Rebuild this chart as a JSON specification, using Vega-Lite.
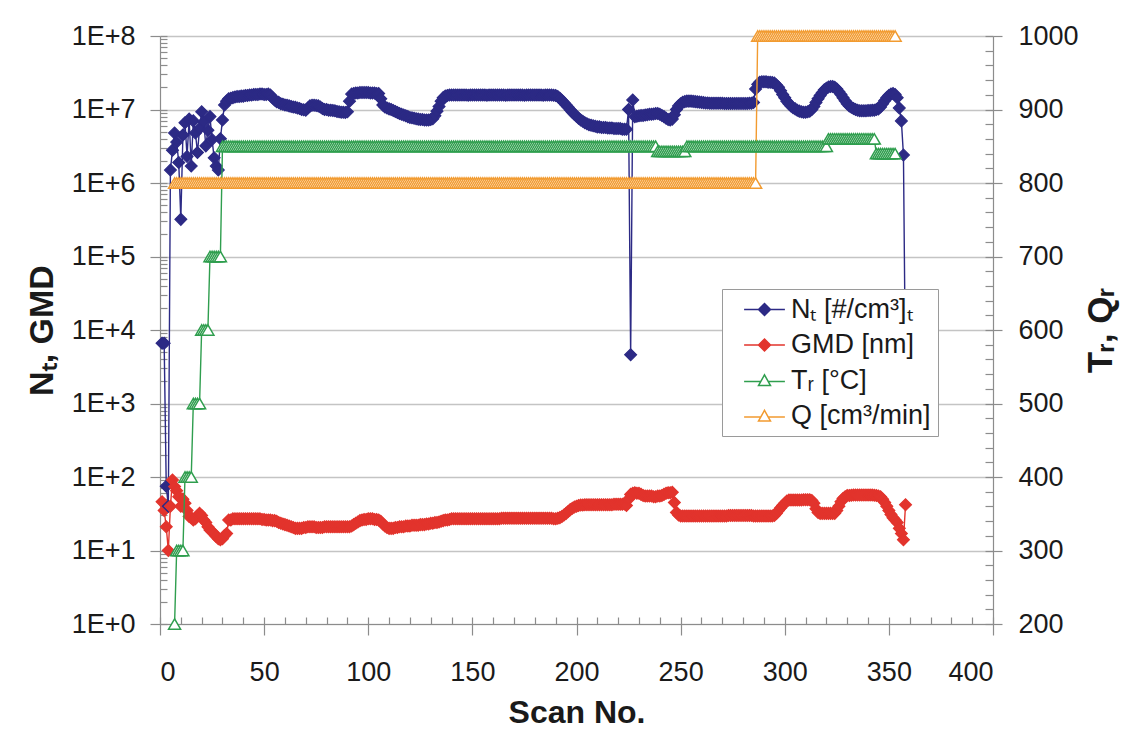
{
  "$schema": "https://vega.github.io/schema/vega-lite/v6.json",
  "width": 833,
  "height": 588,
  "autosize": {"type": "none"},
  "padding": {"left": 160, "top": 36, "right": 136, "bottom": 112},
  "background": "white",
  "config": {
    "view": {"stroke": null},
    "axis": {
      "labelFont": "Liberation Sans",
      "titleFont": "Liberation Sans",
      "labelColor": "#1a1a1a",
      "titleColor": "#1a1a1a",
      "domainColor": "#8c8c8c",
      "tickColor": "#8c8c8c",
      "domainWidth": 1.2,
      "tickWidth": 1.2
    },
    "legend": {"labelFont": "Liberation Sans"}
  },
  "data": {
    "values": [
      {"s":1,"N":6600,"G":46},
      {"s":2,"N":6600,"G":35},
      {"s":3,"N":75,"G":21},
      {"s":4,"N":40,"G":10},
      {"s":5,"N":1.5e6,"G":40},
      {"s":6,"N":2.8e6,"G":91},
      {"s":7,"N":4.8e6,"G":74,"T":200,"Q":800},
      {"s":8,"N":3.6e6,"G":65,"T":300,"Q":800},
      {"s":9,"N":1.9e6,"G":54,"T":300,"Q":800},
      {"s":10,"N":3.2e5,"G":40,"T":300,"Q":800},
      {"s":11,"N":4.5e6,"G":50,"T":300,"Q":800},
      {"s":12,"N":6.6e6,"G":44,"T":400,"Q":800},
      {"s":13,"N":2.3e6,"G":35,"T":400,"Q":800},
      {"s":14,"N":7.4e6,"G":29,"T":400,"Q":800},
      {"s":15,"N":1.7e6,"G":28,"T":400,"Q":800},
      {"s":16,"N":7.0e6,"G":26,"T":500,"Q":800},
      {"s":17,"N":4.8e6,"G":27,"T":500,"Q":800},
      {"s":18,"N":2.6e6,"G":30,"T":500,"Q":800},
      {"s":19,"N":5.5e6,"G":32,"T":500,"Q":800},
      {"s":20,"N":9.3e6,"G":30,"T":600,"Q":800},
      {"s":21,"N":6.8e6,"G":26,"T":600,"Q":800},
      {"s":22,"N":3.2e6,"G":24,"T":600,"Q":800},
      {"s":23,"N":5.2e6,"G":21,"T":600,"Q":800},
      {"s":24,"N":8.0e6,"G":19,"T":700,"Q":800},
      {"s":25,"N":3.9e6,"G":18,"T":700,"Q":800},
      {"s":26,"N":2.2e6,"G":17,"T":700,"Q":800},
      {"s":27,"N":1.7e6,"G":15.5,"T":700,"Q":800},
      {"s":28,"N":1.5e6,"G":14.5,"T":700,"Q":800},
      {"s":29,"N":4.0e6,"G":14,"T":700,"Q":800},
      {"s":30,"N":7.2e6,"G":14.5,"T":850,"Q":800},
      {"s":31,"N":1.15e7,"G":16,"T":850,"Q":800},
      {"s":32,"N":1.3e7,"G":17,"T":850,"Q":800},
      {"s":33,"N":1.4e7,"G":26,"T":850,"Q":800},
      {"s":34,"N":1.42e7,"G":26,"T":850,"Q":800},
      {"s":35,"N":1.45e7,"G":27,"T":850,"Q":800},
      {"s":36,"N":1.48e7,"G":27,"T":850,"Q":800},
      {"s":37,"N":1.5e7,"G":27,"T":850,"Q":800},
      {"s":38,"N":1.5e7,"G":27,"T":850,"Q":800},
      {"s":39,"N":1.52e7,"G":27,"T":850,"Q":800},
      {"s":40,"N":1.52e7,"G":27,"T":850,"Q":800},
      {"s":41,"N":1.55e7,"G":27,"T":850,"Q":800},
      {"s":42,"N":1.55e7,"G":27,"T":850,"Q":800},
      {"s":43,"N":1.57e7,"G":27,"T":850,"Q":800},
      {"s":44,"N":1.58e7,"G":27,"T":850,"Q":800},
      {"s":45,"N":1.6e7,"G":27,"T":850,"Q":800},
      {"s":46,"N":1.6e7,"G":27,"T":850,"Q":800},
      {"s":47,"N":1.6e7,"G":27,"T":850,"Q":800},
      {"s":48,"N":1.62e7,"G":27,"T":850,"Q":800},
      {"s":49,"N":1.62e7,"G":26.5,"T":850,"Q":800},
      {"s":50,"N":1.6e7,"G":26.5,"T":850,"Q":800},
      {"s":51,"N":1.6e7,"G":26,"T":850,"Q":800},
      {"s":52,"N":1.62e7,"G":26,"T":850,"Q":800},
      {"s":53,"N":1.58e7,"G":26,"T":850,"Q":800},
      {"s":54,"N":1.45e7,"G":25.5,"T":850,"Q":800},
      {"s":55,"N":1.35e7,"G":25.5,"T":850,"Q":800},
      {"s":56,"N":1.28e7,"G":25,"T":850,"Q":800},
      {"s":57,"N":1.25e7,"G":24,"T":850,"Q":800},
      {"s":58,"N":1.2e7,"G":23.5,"T":850,"Q":800},
      {"s":59,"N":1.18e7,"G":23,"T":850,"Q":800},
      {"s":60,"N":1.15e7,"G":22.5,"T":850,"Q":800},
      {"s":61,"N":1.14e7,"G":22,"T":850,"Q":800},
      {"s":62,"N":1.12e7,"G":21.5,"T":850,"Q":800},
      {"s":63,"N":1.1e7,"G":21,"T":850,"Q":800},
      {"s":64,"N":1.08e7,"G":20.5,"T":850,"Q":800},
      {"s":65,"N":1.07e7,"G":20,"T":850,"Q":800},
      {"s":66,"N":1.05e7,"G":20,"T":850,"Q":800},
      {"s":67,"N":1.03e7,"G":20,"T":850,"Q":800},
      {"s":68,"N":1.0e7,"G":20,"T":850,"Q":800},
      {"s":69,"N":9.9e6,"G":20.5,"T":850,"Q":800},
      {"s":70,"N":9.8e6,"G":20.5,"T":850,"Q":800},
      {"s":71,"N":1.05e7,"G":21,"T":850,"Q":800},
      {"s":72,"N":1.12e7,"G":21,"T":850,"Q":800},
      {"s":73,"N":1.14e7,"G":21,"T":850,"Q":800},
      {"s":74,"N":1.14e7,"G":21,"T":850,"Q":800},
      {"s":75,"N":1.13e7,"G":20.5,"T":850,"Q":800},
      {"s":76,"N":1.12e7,"G":20.5,"T":850,"Q":800},
      {"s":77,"N":1.08e7,"G":20.5,"T":850,"Q":800},
      {"s":78,"N":1.03e7,"G":20.5,"T":850,"Q":800},
      {"s":79,"N":1.0e7,"G":21,"T":850,"Q":800},
      {"s":80,"N":1.0e7,"G":21,"T":850,"Q":800},
      {"s":81,"N":9.8e6,"G":21,"T":850,"Q":800},
      {"s":82,"N":9.8e6,"G":21,"T":850,"Q":800},
      {"s":83,"N":9.7e6,"G":21,"T":850,"Q":800},
      {"s":84,"N":9.6e6,"G":21,"T":850,"Q":800},
      {"s":85,"N":9.4e6,"G":21,"T":850,"Q":800},
      {"s":86,"N":9.3e6,"G":21,"T":850,"Q":800},
      {"s":87,"N":9.2e6,"G":21,"T":850,"Q":800},
      {"s":88,"N":9.2e6,"G":21,"T":850,"Q":800},
      {"s":89,"N":9.1e6,"G":21,"T":850,"Q":800},
      {"s":90,"N":9.3e6,"G":21,"T":850,"Q":800},
      {"s":91,"N":1.3e7,"G":21,"T":850,"Q":800},
      {"s":92,"N":1.62e7,"G":21.5,"T":850,"Q":800},
      {"s":93,"N":1.65e7,"G":22.5,"T":850,"Q":800},
      {"s":94,"N":1.68e7,"G":23.5,"T":850,"Q":800},
      {"s":95,"N":1.68e7,"G":24.5,"T":850,"Q":800},
      {"s":96,"N":1.7e7,"G":25.5,"T":850,"Q":800},
      {"s":97,"N":1.7e7,"G":26,"T":850,"Q":800},
      {"s":98,"N":1.7e7,"G":26.5,"T":850,"Q":800},
      {"s":99,"N":1.7e7,"G":26.5,"T":850,"Q":800},
      {"s":100,"N":1.7e7,"G":27,"T":850,"Q":800},
      {"s":101,"N":1.68e7,"G":27,"T":850,"Q":800},
      {"s":102,"N":1.68e7,"G":27,"T":850,"Q":800},
      {"s":103,"N":1.68e7,"G":26.5,"T":850,"Q":800},
      {"s":104,"N":1.65e7,"G":26.5,"T":850,"Q":800},
      {"s":105,"N":1.65e7,"G":26,"T":850,"Q":800},
      {"s":106,"N":1.4e7,"G":25,"T":850,"Q":800},
      {"s":107,"N":1.15e7,"G":23,"T":850,"Q":800},
      {"s":108,"N":1.08e7,"G":21.5,"T":850,"Q":800},
      {"s":109,"N":1.05e7,"G":20.5,"T":850,"Q":800},
      {"s":110,"N":1.02e7,"G":20,"T":850,"Q":800},
      {"s":111,"N":1.0e7,"G":20,"T":850,"Q":800},
      {"s":112,"N":9.7e6,"G":20,"T":850,"Q":800},
      {"s":113,"N":9.4e6,"G":20.5,"T":850,"Q":800},
      {"s":114,"N":9.1e6,"G":20.5,"T":850,"Q":800},
      {"s":115,"N":8.8e6,"G":21,"T":850,"Q":800},
      {"s":116,"N":8.6e6,"G":21,"T":850,"Q":800},
      {"s":117,"N":8.4e6,"G":21,"T":850,"Q":800},
      {"s":118,"N":8.2e6,"G":21.5,"T":850,"Q":800},
      {"s":119,"N":8.0e6,"G":21.5,"T":850,"Q":800},
      {"s":120,"N":7.8e6,"G":21.5,"T":850,"Q":800},
      {"s":121,"N":7.7e6,"G":22,"T":850,"Q":800},
      {"s":122,"N":7.6e6,"G":22,"T":850,"Q":800},
      {"s":123,"N":7.5e6,"G":22,"T":850,"Q":800},
      {"s":124,"N":7.4e6,"G":22,"T":850,"Q":800},
      {"s":125,"N":7.3e6,"G":22.5,"T":850,"Q":800},
      {"s":126,"N":7.3e6,"G":22.5,"T":850,"Q":800},
      {"s":127,"N":7.2e6,"G":22.5,"T":850,"Q":800},
      {"s":128,"N":7.2e6,"G":23,"T":850,"Q":800},
      {"s":129,"N":7.2e6,"G":23,"T":850,"Q":800},
      {"s":130,"N":7.3e6,"G":23.5,"T":850,"Q":800},
      {"s":131,"N":7.5e6,"G":23.5,"T":850,"Q":800},
      {"s":132,"N":8.2e6,"G":24,"T":850,"Q":800},
      {"s":133,"N":9.5e6,"G":24,"T":850,"Q":800},
      {"s":134,"N":1.1e7,"G":24.5,"T":850,"Q":800},
      {"s":135,"N":1.3e7,"G":25,"T":850,"Q":800},
      {"s":136,"N":1.45e7,"G":25.5,"T":850,"Q":800},
      {"s":137,"N":1.52e7,"G":26,"T":850,"Q":800},
      {"s":138,"N":1.55e7,"G":26,"T":850,"Q":800},
      {"s":139,"N":1.57e7,"G":26.5,"T":850,"Q":800},
      {"s":140,"N":1.57e7,"G":27,"T":850,"Q":800},
      {"s":141,"N":1.58e7,"G":27,"T":850,"Q":800},
      {"s":142,"N":1.58e7,"G":27,"T":850,"Q":800},
      {"s":143,"N":1.57e7,"G":27,"T":850,"Q":800},
      {"s":144,"N":1.57e7,"G":27,"T":850,"Q":800},
      {"s":145,"N":1.58e7,"G":27,"T":850,"Q":800},
      {"s":146,"N":1.58e7,"G":27,"T":850,"Q":800},
      {"s":147,"N":1.57e7,"G":27,"T":850,"Q":800},
      {"s":148,"N":1.56e7,"G":27,"T":850,"Q":800},
      {"s":149,"N":1.57e7,"G":27,"T":850,"Q":800},
      {"s":150,"N":1.58e7,"G":27,"T":850,"Q":800},
      {"s":151,"N":1.58e7,"G":27,"T":850,"Q":800},
      {"s":152,"N":1.57e7,"G":27,"T":850,"Q":800},
      {"s":153,"N":1.57e7,"G":27,"T":850,"Q":800},
      {"s":154,"N":1.58e7,"G":27,"T":850,"Q":800},
      {"s":155,"N":1.58e7,"G":27,"T":850,"Q":800},
      {"s":156,"N":1.57e7,"G":27,"T":850,"Q":800},
      {"s":157,"N":1.56e7,"G":27,"T":850,"Q":800},
      {"s":158,"N":1.57e7,"G":27,"T":850,"Q":800},
      {"s":159,"N":1.58e7,"G":27,"T":850,"Q":800},
      {"s":160,"N":1.58e7,"G":27,"T":850,"Q":800},
      {"s":161,"N":1.57e7,"G":27,"T":850,"Q":800},
      {"s":162,"N":1.57e7,"G":27,"T":850,"Q":800},
      {"s":163,"N":1.58e7,"G":27,"T":850,"Q":800},
      {"s":164,"N":1.58e7,"G":27.5,"T":850,"Q":800},
      {"s":165,"N":1.57e7,"G":27.5,"T":850,"Q":800},
      {"s":166,"N":1.56e7,"G":27.5,"T":850,"Q":800},
      {"s":167,"N":1.57e7,"G":27.5,"T":850,"Q":800},
      {"s":168,"N":1.58e7,"G":27.5,"T":850,"Q":800},
      {"s":169,"N":1.58e7,"G":27.5,"T":850,"Q":800},
      {"s":170,"N":1.57e7,"G":27.5,"T":850,"Q":800},
      {"s":171,"N":1.57e7,"G":27.5,"T":850,"Q":800},
      {"s":172,"N":1.58e7,"G":27.5,"T":850,"Q":800},
      {"s":173,"N":1.58e7,"G":27.5,"T":850,"Q":800},
      {"s":174,"N":1.57e7,"G":27.5,"T":850,"Q":800},
      {"s":175,"N":1.56e7,"G":27.5,"T":850,"Q":800},
      {"s":176,"N":1.57e7,"G":27.5,"T":850,"Q":800},
      {"s":177,"N":1.58e7,"G":27.5,"T":850,"Q":800},
      {"s":178,"N":1.58e7,"G":27.5,"T":850,"Q":800},
      {"s":179,"N":1.57e7,"G":27.5,"T":850,"Q":800},
      {"s":180,"N":1.57e7,"G":27.5,"T":850,"Q":800},
      {"s":181,"N":1.58e7,"G":27.5,"T":850,"Q":800},
      {"s":182,"N":1.58e7,"G":27.5,"T":850,"Q":800},
      {"s":183,"N":1.57e7,"G":27.5,"T":850,"Q":800},
      {"s":184,"N":1.56e7,"G":27.5,"T":850,"Q":800},
      {"s":185,"N":1.57e7,"G":27.5,"T":850,"Q":800},
      {"s":186,"N":1.58e7,"G":27.5,"T":850,"Q":800},
      {"s":187,"N":1.58e7,"G":27.5,"T":850,"Q":800},
      {"s":188,"N":1.57e7,"G":27.5,"T":850,"Q":800},
      {"s":189,"N":1.56e7,"G":27,"T":850,"Q":800},
      {"s":190,"N":1.55e7,"G":27,"T":850,"Q":800},
      {"s":191,"N":1.5e7,"G":27.5,"T":850,"Q":800},
      {"s":192,"N":1.42e7,"G":28,"T":850,"Q":800},
      {"s":193,"N":1.33e7,"G":29,"T":850,"Q":800},
      {"s":194,"N":1.24e7,"G":30.5,"T":850,"Q":800},
      {"s":195,"N":1.15e7,"G":32,"T":850,"Q":800},
      {"s":196,"N":1.07e7,"G":34,"T":850,"Q":800},
      {"s":197,"N":9.9e6,"G":36,"T":850,"Q":800},
      {"s":198,"N":9.2e6,"G":37.5,"T":850,"Q":800},
      {"s":199,"N":8.6e6,"G":39,"T":850,"Q":800},
      {"s":200,"N":8.1e6,"G":40,"T":850,"Q":800},
      {"s":201,"N":7.6e6,"G":41,"T":850,"Q":800},
      {"s":202,"N":7.2e6,"G":41.5,"T":850,"Q":800},
      {"s":203,"N":6.9e6,"G":41.5,"T":850,"Q":800},
      {"s":204,"N":6.6e6,"G":42,"T":850,"Q":800},
      {"s":205,"N":6.4e6,"G":42,"T":850,"Q":800},
      {"s":206,"N":6.2e6,"G":42,"T":850,"Q":800},
      {"s":207,"N":6.1e6,"G":42,"T":850,"Q":800},
      {"s":208,"N":6.0e6,"G":42,"T":850,"Q":800},
      {"s":209,"N":5.9e6,"G":42,"T":850,"Q":800},
      {"s":210,"N":5.8e6,"G":42,"T":850,"Q":800},
      {"s":211,"N":5.8e6,"G":42,"T":850,"Q":800},
      {"s":212,"N":5.7e6,"G":42,"T":850,"Q":800},
      {"s":213,"N":5.7e6,"G":42,"T":850,"Q":800},
      {"s":214,"N":5.7e6,"G":42,"T":850,"Q":800},
      {"s":215,"N":5.6e6,"G":42,"T":850,"Q":800},
      {"s":216,"N":5.6e6,"G":42,"T":850,"Q":800},
      {"s":217,"N":5.6e6,"G":42,"T":850,"Q":800},
      {"s":218,"N":5.5e6,"G":42.5,"T":850,"Q":800},
      {"s":219,"N":5.5e6,"G":42.5,"T":850,"Q":800},
      {"s":220,"N":5.5e6,"G":42.5,"T":850,"Q":800},
      {"s":221,"N":5.5e6,"G":42.5,"T":850,"Q":800},
      {"s":222,"N":5.4e6,"G":42.5,"T":850,"Q":800},
      {"s":223,"N":5.4e6,"G":43,"T":850,"Q":800},
      {"s":224,"N":5.4e6,"G":41,"T":850,"Q":800},
      {"s":225,"N":1.0e7,"G":50,"T":850,"Q":800},
      {"s":226,"N":4600,"G":58,"T":850,"Q":800},
      {"s":227,"N":1.35e7,"G":60,"T":850,"Q":800},
      {"s":228,"N":8.0e6,"G":61,"T":850,"Q":800},
      {"s":229,"N":8.1e6,"G":60,"T":850,"Q":800},
      {"s":230,"N":8.2e6,"G":60,"T":850,"Q":800},
      {"s":231,"N":8.3e6,"G":58,"T":850,"Q":800},
      {"s":232,"N":8.3e6,"G":56,"T":850,"Q":800},
      {"s":233,"N":8.4e6,"G":55,"T":850,"Q":800},
      {"s":234,"N":8.5e6,"G":55,"T":850,"Q":800},
      {"s":235,"N":8.6e6,"G":55,"T":850,"Q":800},
      {"s":236,"N":8.6e6,"G":55,"T":850,"Q":800},
      {"s":237,"N":8.7e6,"G":54,"T":850,"Q":800},
      {"s":238,"N":8.8e6,"G":54,"T":850,"Q":800},
      {"s":239,"N":8.8e6,"G":55,"T":843,"Q":800},
      {"s":240,"N":8.6e6,"G":55,"T":843,"Q":800},
      {"s":241,"N":8.3e6,"G":56,"T":843,"Q":800},
      {"s":242,"N":8.0e6,"G":58,"T":843,"Q":800},
      {"s":243,"N":7.6e6,"G":60,"T":843,"Q":800},
      {"s":244,"N":7.3e6,"G":61,"T":843,"Q":800},
      {"s":245,"N":7.2e6,"G":61,"T":843,"Q":800},
      {"s":246,"N":7.4e6,"G":62,"T":843,"Q":800},
      {"s":247,"N":8.5e6,"G":45,"T":843,"Q":800},
      {"s":248,"N":1.0e7,"G":33,"T":843,"Q":800},
      {"s":249,"N":1.12e7,"G":30.5,"T":843,"Q":800},
      {"s":250,"N":1.2e7,"G":29.5,"T":843,"Q":800},
      {"s":251,"N":1.25e7,"G":29.5,"T":843,"Q":800},
      {"s":252,"N":1.28e7,"G":29.5,"T":843,"Q":800},
      {"s":253,"N":1.3e7,"G":29.5,"T":850,"Q":800},
      {"s":254,"N":1.3e7,"G":29.5,"T":850,"Q":800},
      {"s":255,"N":1.3e7,"G":29.5,"T":850,"Q":800},
      {"s":256,"N":1.29e7,"G":29.5,"T":850,"Q":800},
      {"s":257,"N":1.28e7,"G":29.5,"T":850,"Q":800},
      {"s":258,"N":1.27e7,"G":29.5,"T":850,"Q":800},
      {"s":259,"N":1.26e7,"G":29.5,"T":850,"Q":800},
      {"s":260,"N":1.25e7,"G":29.5,"T":850,"Q":800},
      {"s":261,"N":1.24e7,"G":29.5,"T":850,"Q":800},
      {"s":262,"N":1.23e7,"G":29.5,"T":850,"Q":800},
      {"s":263,"N":1.23e7,"G":29.5,"T":850,"Q":800},
      {"s":264,"N":1.22e7,"G":29.5,"T":850,"Q":800},
      {"s":265,"N":1.22e7,"G":29.5,"T":850,"Q":800},
      {"s":266,"N":1.22e7,"G":29.5,"T":850,"Q":800},
      {"s":267,"N":1.22e7,"G":29.5,"T":850,"Q":800},
      {"s":268,"N":1.22e7,"G":29.5,"T":850,"Q":800},
      {"s":269,"N":1.22e7,"G":29.5,"T":850,"Q":800},
      {"s":270,"N":1.22e7,"G":29.5,"T":850,"Q":800},
      {"s":271,"N":1.21e7,"G":29.5,"T":850,"Q":800},
      {"s":272,"N":1.21e7,"G":29.5,"T":850,"Q":800},
      {"s":273,"N":1.21e7,"G":30,"T":850,"Q":800},
      {"s":274,"N":1.21e7,"G":30,"T":850,"Q":800},
      {"s":275,"N":1.21e7,"G":30,"T":850,"Q":800},
      {"s":276,"N":1.21e7,"G":30,"T":850,"Q":800},
      {"s":277,"N":1.21e7,"G":30,"T":850,"Q":800},
      {"s":278,"N":1.21e7,"G":30,"T":850,"Q":800},
      {"s":279,"N":1.21e7,"G":30,"T":850,"Q":800},
      {"s":280,"N":1.21e7,"G":30,"T":850,"Q":800},
      {"s":281,"N":1.21e7,"G":30,"T":850,"Q":800},
      {"s":282,"N":1.21e7,"G":30,"T":850,"Q":800},
      {"s":283,"N":1.22e7,"G":30,"T":850,"Q":800},
      {"s":284,"N":1.22e7,"G":30,"T":850,"Q":800},
      {"s":285,"N":1.25e7,"G":29.5,"T":850,"Q":800},
      {"s":286,"N":1.9e7,"G":29.5,"T":850,"Q":800},
      {"s":287,"N":2.2e7,"G":29.5,"T":850,"Q":1000},
      {"s":288,"N":2.35e7,"G":29.5,"T":850,"Q":1000},
      {"s":289,"N":2.38e7,"G":29.5,"T":850,"Q":1000},
      {"s":290,"N":2.38e7,"G":29.5,"T":850,"Q":1000},
      {"s":291,"N":2.38e7,"G":29.5,"T":850,"Q":1000},
      {"s":292,"N":2.35e7,"G":29.5,"T":850,"Q":1000},
      {"s":293,"N":2.35e7,"G":29.5,"T":850,"Q":1000},
      {"s":294,"N":2.33e7,"G":29.5,"T":850,"Q":1000},
      {"s":295,"N":2.3e7,"G":30,"T":850,"Q":1000},
      {"s":296,"N":2.15e7,"G":32,"T":850,"Q":1000},
      {"s":297,"N":2.0e7,"G":35,"T":850,"Q":1000},
      {"s":298,"N":1.8e7,"G":38,"T":850,"Q":1000},
      {"s":299,"N":1.6e7,"G":41,"T":850,"Q":1000},
      {"s":300,"N":1.45e7,"G":44,"T":850,"Q":1000},
      {"s":301,"N":1.3e7,"G":47,"T":850,"Q":1000},
      {"s":302,"N":1.2e7,"G":48.5,"T":850,"Q":1000},
      {"s":303,"N":1.12e7,"G":48.5,"T":850,"Q":1000},
      {"s":304,"N":1.06e7,"G":48.5,"T":850,"Q":1000},
      {"s":305,"N":1.02e7,"G":48.5,"T":850,"Q":1000},
      {"s":306,"N":9.8e6,"G":48.5,"T":850,"Q":1000},
      {"s":307,"N":9.5e6,"G":48.5,"T":850,"Q":1000},
      {"s":308,"N":9.3e6,"G":48.5,"T":850,"Q":1000},
      {"s":309,"N":9.2e6,"G":49,"T":850,"Q":1000},
      {"s":310,"N":9.2e6,"G":49,"T":850,"Q":1000},
      {"s":311,"N":9.3e6,"G":49,"T":850,"Q":1000},
      {"s":312,"N":9.5e6,"G":49,"T":850,"Q":1000},
      {"s":313,"N":1.0e7,"G":48,"T":850,"Q":1000},
      {"s":314,"N":1.1e7,"G":44,"T":850,"Q":1000},
      {"s":315,"N":1.25e7,"G":37,"T":850,"Q":1000},
      {"s":316,"N":1.4e7,"G":33,"T":850,"Q":1000},
      {"s":317,"N":1.55e7,"G":32,"T":850,"Q":1000},
      {"s":318,"N":1.7e7,"G":32,"T":850,"Q":1000},
      {"s":319,"N":1.85e7,"G":32,"T":850,"Q":1000},
      {"s":320,"N":1.95e7,"G":32,"T":850,"Q":1000},
      {"s":321,"N":2.02e7,"G":32,"T":860,"Q":1000},
      {"s":322,"N":2.05e7,"G":32,"T":860,"Q":1000},
      {"s":323,"N":2.05e7,"G":32,"T":860,"Q":1000},
      {"s":324,"N":2.0e7,"G":32,"T":860,"Q":1000},
      {"s":325,"N":1.9e7,"G":35,"T":860,"Q":1000},
      {"s":326,"N":1.75e7,"G":40,"T":860,"Q":1000},
      {"s":327,"N":1.6e7,"G":46,"T":860,"Q":1000},
      {"s":328,"N":1.45e7,"G":51,"T":860,"Q":1000},
      {"s":329,"N":1.32e7,"G":54,"T":860,"Q":1000},
      {"s":330,"N":1.2e7,"G":56,"T":860,"Q":1000},
      {"s":331,"N":1.12e7,"G":56,"T":860,"Q":1000},
      {"s":332,"N":1.07e7,"G":56.5,"T":860,"Q":1000},
      {"s":333,"N":1.03e7,"G":57,"T":860,"Q":1000},
      {"s":334,"N":1.0e7,"G":57,"T":860,"Q":1000},
      {"s":335,"N":9.8e6,"G":57,"T":860,"Q":1000},
      {"s":336,"N":9.6e6,"G":57,"T":860,"Q":1000},
      {"s":337,"N":9.6e6,"G":57,"T":860,"Q":1000},
      {"s":338,"N":9.6e6,"G":57,"T":860,"Q":1000},
      {"s":339,"N":9.6e6,"G":57,"T":860,"Q":1000},
      {"s":340,"N":9.7e6,"G":57,"T":860,"Q":1000},
      {"s":341,"N":9.7e6,"G":57,"T":860,"Q":1000},
      {"s":342,"N":9.8e6,"G":57,"T":860,"Q":1000},
      {"s":343,"N":9.8e6,"G":56.5,"T":860,"Q":1000},
      {"s":344,"N":1.0e7,"G":56,"T":840,"Q":1000},
      {"s":345,"N":1.02e7,"G":55,"T":840,"Q":1000},
      {"s":346,"N":1.08e7,"G":54,"T":840,"Q":1000},
      {"s":347,"N":1.2e7,"G":50,"T":840,"Q":1000},
      {"s":348,"N":1.32e7,"G":45,"T":840,"Q":1000},
      {"s":349,"N":1.45e7,"G":40,"T":840,"Q":1000},
      {"s":350,"N":1.55e7,"G":35,"T":840,"Q":1000},
      {"s":351,"N":1.62e7,"G":31,"T":840,"Q":1000},
      {"s":352,"N":1.65e7,"G":28,"T":840,"Q":1000},
      {"s":353,"N":1.6e7,"G":26,"T":840,"Q":1000},
      {"s":354,"N":1.45e7,"G":24},
      {"s":355,"N":1.05e7,"G":20},
      {"s":356,"N":7.0e6,"G":17},
      {"s":357,"N":2.4e6,"G":14},
      {"s":358,"N":2000,"G":42}
    ]
  },
  "transform": [
    {"fold": ["N", "G", "T", "Q"], "as": ["k", "v"]},
    {"filter": "isValid(datum.v)"}
  ],
  "layer": [
    {
      "transform": [{"filter": "datum.k === 'N' || datum.k === 'G'"}],
      "layer": [
        {
          "mark": {"type": "line", "strokeWidth": 1.4},
          "encoding": {
            "x": {
              "field": "s", "type": "quantitative",
              "scale": {"domain": [0, 400], "nice": false},
              "axis": {
                "orient": "bottom",
                "values": [0, 50, 100, 150, 200, 250, 300, 350, 400],
                "format": "d",
                "tickSize": 11,
                "labelFontSize": 27,
                "labelPadding": 24,
                "grid": false,
                "title": "Scan No.",
                "titleFontSize": 32,
                "titleFontWeight": "bold",
                "titlePadding": 12
              }
            },
            "y": {
              "field": "v", "type": "quantitative",
              "scale": {"type": "log", "domain": [1, 100000000], "nice": false},
              "axis": {
                "orient": "left",
                "values": [1, 10, 100, 1000, 10000, 100000, 1000000, 10000000, 100000000],
                "labelExpr": "'1E+' + round(log(datum.value) / LN10)",
                "tickSize": 10,
                "labelPadding": 15,
                "labelFontSize": 27,
                "grid": true,
                "gridColor": "#c4c4c4",
                "gridWidth": 1.3,
                "title": "Nₜ, GMD",
                "titleFontSize": 34,
                "titleFontWeight": "bold",
                "titlePadding": 12
              }
            },
            "stroke": {
              "field": "k", "type": "nominal",
              "scale": {"domain": ["N", "G"], "range": ["#2c2a85", "#e2342d"]},
              "legend": null
            }
          }
        },
        {
          "mark": {"type": "point", "filled": true, "opacity": 1, "strokeWidth": 1.2, "size": 140},
          "encoding": {
            "x": {
              "field": "s", "type": "quantitative",
              "axis": {
                "orient": "bottom",
                "values": [0, 10, 20, 30, 40, 50, 60, 70, 80, 90, 100, 110, 120, 130, 140, 150, 160, 170, 180, 190, 200, 210, 220, 230, 240, 250, 260, 270, 280, 290, 300, 310, 320, 330, 340, 350, 360, 370, 380, 390, 400],
                "tickSize": -7,
                "labels": false,
                "domain": false,
                "grid": false,
                "title": null
              }
            },
            "y": {
              "field": "v", "type": "quantitative",
              "axis": {
                "orient": "left",
                "values": [1, 2, 3, 4, 5, 6, 7, 8, 9, 10, 20, 30, 40, 50, 60, 70, 80, 90, 100, 200, 300, 400, 500, 600, 700, 800, 900, 1000, 2000, 3000, 4000, 5000, 6000, 7000, 8000, 9000, 10000, 20000, 30000, 40000, 50000, 60000, 70000, 80000, 90000, 100000, 200000, 300000, 400000, 500000, 600000, 700000, 800000, 900000, 1000000, 2000000, 3000000, 4000000, 5000000, 6000000, 7000000, 8000000, 9000000, 10000000, 20000000, 30000000, 40000000, 50000000, 60000000, 70000000, 80000000, 90000000, 100000000],
                "tickSize": -7,
                "labels": false,
                "domain": false,
                "grid": false,
                "title": null
              }
            },
            "stroke": {"field": "k", "type": "nominal", "legend": null},
            "fill": {
              "field": "k", "type": "nominal",
              "scale": {"domain": ["N", "G"], "range": ["#2c2a85", "#e2342d"]},
              "legend": null
            },
            "shape": {"value": "diamond"}
          }
        }
      ],
      "resolve": {"axis": {"x": "independent", "y": "independent"}}
    },
    {
      "transform": [{"filter": "datum.k === 'T' || datum.k === 'Q'"}],
      "layer": [
        {
          "mark": {"type": "line", "strokeWidth": 1.4},
          "encoding": {
            "x": {"field": "s", "type": "quantitative", "axis": null},
            "y": {
              "field": "v", "type": "quantitative",
              "scale": {"domain": [200, 1000], "nice": false, "zero": false},
              "axis": {
                "orient": "right",
                "values": [200, 300, 400, 500, 600, 700, 800, 900, 1000],
                "format": "d",
                "tickSize": 9,
                "labelPadding": 16,
                "labelFontSize": 27,
                "grid": false,
                "title": "Tᵣ, Qᵣ",
                "titleAngle": 270,
                "titleFontSize": 35,
                "titleFontWeight": "bold",
                "titlePadding": 40
              }
            },
            "stroke": {
              "field": "k", "type": "nominal",
              "scale": {"domain": ["T", "Q"], "range": ["#2f9e4e", "#f29b30"]},
              "legend": null
            }
          }
        },
        {
          "mark": {"type": "point", "filled": true, "opacity": 1, "strokeWidth": 1.5, "size": 145, "fill": "white", "shape": "triangle-up"},
          "encoding": {
            "x": {"field": "s", "type": "quantitative", "axis": null},
            "y": {
              "field": "v", "type": "quantitative",
              "axis": {
                "orient": "right",
                "values": [200, 220, 240, 260, 280, 300, 320, 340, 360, 380, 400, 420, 440, 460, 480, 500, 520, 540, 560, 580, 600, 620, 640, 660, 680, 700, 720, 740, 760, 780, 800, 820, 840, 860, 880, 900, 920, 940, 960, 980, 1000],
                "tickSize": -8,
                "labels": false,
                "domain": false,
                "grid": false,
                "title": null
              }
            },
            "stroke": {"field": "k", "type": "nominal", "legend": null}
          }
        }
      ],
      "resolve": {"axis": {"y": "independent"}}
    },
    {
      "mark": {"type": "point", "filled": true, "opacity": 0},
      "encoding": {
        "x": {"field": "s", "type": "quantitative", "axis": null},
        "y": {"field": "v", "type": "quantitative", "axis": null},
        "stroke": {
          "field": "k", "type": "nominal",
          "scale": {"domain": ["N", "G", "T", "Q"], "range": ["#2c2a85", "#e2342d", "#2f9e4e", "#f29b30"]},
          "legend": {
            "title": null, "orient": "none", "legendX": 562, "legendY": 253,
            "strokeColor": "#9a9a9a", "fillColor": "white", "padding": 7,
            "labelFontSize": 27, "labelColor": "#1a1a1a",
            "labelExpr": "datum.value === 'N' ? 'Nₜ [#/cm³]ₜ' : datum.value === 'G' ? 'GMD [nm]' : datum.value === 'T' ? 'Tᵣ [°C]' : 'Q [cm³/min]'",
            "symbolSize": 144, "symbolStrokeWidth": 1.5, "symbolOpacity": 1,
            "symbolOffset": 22, "labelOffset": 13, "rowPadding": 7.5
          }
        },
        "fill": {
          "field": "k", "type": "nominal",
          "scale": {"domain": ["N", "G", "T", "Q"], "range": ["#2c2a85", "#e2342d", "#ffffff", "#ffffff"]},
          "legend": {
            "title": null, "orient": "none", "legendX": 562, "legendY": 253,
            "strokeColor": "#9a9a9a", "fillColor": "white", "padding": 7,
            "labelFontSize": 27, "labelColor": "#1a1a1a",
            "labelExpr": "datum.value === 'N' ? 'Nₜ [#/cm³]ₜ' : datum.value === 'G' ? 'GMD [nm]' : datum.value === 'T' ? 'Tᵣ [°C]' : 'Q [cm³/min]'",
            "symbolSize": 144, "symbolStrokeWidth": 1.5, "symbolOpacity": 1,
            "symbolOffset": 22, "labelOffset": 13, "rowPadding": 7.5
          }
        },
        "shape": {
          "field": "k", "type": "nominal",
          "scale": {
            "domain": ["N", "G", "T", "Q"],
            "range": [
              "M-3.4,0L-1,0M1,0L3.4,0M-1,0L0,-1L1,0L0,1Z",
              "M-3.4,0L-1,0M1,0L3.4,0M-1,0L0,-1L1,0L0,1Z",
              "M-3.4,0.15L-0.61,0.15M0.61,0.15L3.4,0.15M0,-0.95L1,0.85L-1,0.85Z",
              "M-3.4,0.15L-0.61,0.15M0.61,0.15L3.4,0.15M0,-0.95L1,0.85L-1,0.85Z"
            ]
          },
          "legend": {
            "title": null, "orient": "none", "legendX": 562, "legendY": 253,
            "strokeColor": "#9a9a9a", "fillColor": "white", "padding": 7,
            "labelFontSize": 27, "labelColor": "#1a1a1a",
            "labelExpr": "datum.value === 'N' ? 'Nₜ [#/cm³]ₜ' : datum.value === 'G' ? 'GMD [nm]' : datum.value === 'T' ? 'Tᵣ [°C]' : 'Q [cm³/min]'",
            "symbolSize": 144, "symbolStrokeWidth": 1.5, "symbolOpacity": 1,
            "symbolOffset": 22, "labelOffset": 13, "rowPadding": 7.5
          }
        }
      }
    }
  ],
  "resolve": {
    "scale": {"y": "independent", "stroke": "independent", "fill": "independent", "shape": "independent"},
    "axis": {"x": "independent", "y": "independent"}
  }
}
